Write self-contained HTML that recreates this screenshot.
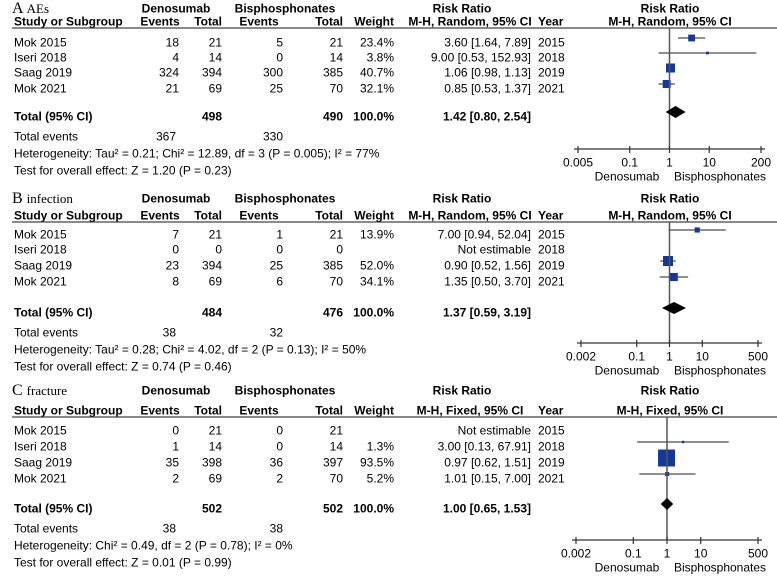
<!DOCTYPE html>
<html><head><meta charset="utf-8"><style>
html,body{margin:0;padding:0;background:#fff;}
svg{display:block;font-family:"Liberation Sans",Arial,sans-serif;font-size:12px;}
.b{font-weight:bold;}
.u{font-weight:bold;}
.t{font-family:"Liberation Serif",serif;}
</style></head><body>
<svg id="c" width="777" height="576" viewBox="0 0 777 576"></svg>
<script>
// Panel A data
const aStudies=["Mok 2015","Iseri 2018","Saag 2019","Mok 2021"];
const aDenEv=["18","4","324","21"], aDenTot=["21","14","394","69"];
const aBisEv=["5","0","300","25"], aBisTot=["21","14","385","70"];
const aWeight=[23.4,3.8,40.7,32.1];
const aRR=[3.60,9.00,1.06,0.85], aLo=[1.64,0.53,0.98,0.53], aHi=[7.89,152.93,1.13,1.37];
const aRRText=["3.60 [1.64, 7.89]","9.00 [0.53, 152.93]","1.06 [0.98, 1.13]","0.85 [0.53, 1.37]"];
const aYears=["2015","2018","2019","2021"];
const aTotal={den:"498",bis:"490",rr:1.42,lo:0.80,hi:2.54,text:"1.42 [0.80, 2.54]",evDen:"367",evBis:"330"};
const aTicks=[0.005,0.1,1,10,200], aTickLabels=["0.005","0.1","1","10","200"];
// Panel B data
const bStudies=["Mok 2015","Iseri 2018","Saag 2019","Mok 2021"];
const bDenEv=["7","0","23","8"], bDenTot=["21","0","394","69"];
const bBisEv=["1","0","25","6"], bBisTot=["21","0","385","70"];
const bWeight=[13.9,null,52.0,34.1];
const bRR=[7.00,null,0.90,1.35], bLo=[0.94,null,0.52,0.50], bHi=[52.04,null,1.56,3.70];
const bRRText=["7.00 [0.94, 52.04]","Not estimable","0.90 [0.52, 1.56]","1.35 [0.50, 3.70]"];
const bYears=["2015","2018","2019","2021"];
const bTotal={den:"484",bis:"476",rr:1.37,lo:0.59,hi:3.19,text:"1.37 [0.59, 3.19]",evDen:"38",evBis:"32"};
const bTicks=[0.002,0.1,1,10,500], bTickLabels=["0.002","0.1","1","10","500"];
// Panel C data
const cStudies=["Mok 2015","Iseri 2018","Saag 2019","Mok 2021"];
const cDenEv=["0","1","35","2"], cDenTot=["21","14","398","69"];
const cBisEv=["0","0","36","2"], cBisTot=["21","14","397","70"];
const cWeight=[null,1.3,93.5,5.2];
const cRR=[null,3.00,0.97,1.01], cLo=[null,0.13,0.62,0.15], cHi=[null,67.91,1.51,7.00];
const cRRText=["Not estimable","3.00 [0.13, 67.91]","0.97 [0.62, 1.51]","1.01 [0.15, 7.00]"];
const cYears=["2015","2018","2019","2021"];
const cTotal={den:"502",bis:"502",rr:1.00,lo:0.65,hi:1.53,text:"1.00 [0.65, 1.53]",evDen:"38",evBis:"38"};
const cTicks=[0.002,0.1,1,10,500], cTickLabels=["0.002","0.1","1","10","500"];

const svg=document.getElementById('c');
const NS="http://www.w3.org/2000/svg";
function mk(tag,attrs,parent){const e=document.createElementNS(NS,tag);for(const k in attrs)e.setAttribute(k,attrs[k]);(parent||svg).appendChild(e);return e;}
function txt(g,x,y,s,anchor,cls,name){const e=mk('text',{x:x,y:y+4.5,'text-anchor':anchor||'start'},g);if(cls)e.setAttribute('class',cls);e.textContent=s;


return e;}

function panel(o){
  const g=mk('g',{});
  
  
  const tt=mk('text',{x:12,y:o.titleY+5,'class':'t'},g);
  
  
  const s1=mk('tspan',{'font-size':'16'},tt);s1.textContent=o.letter+' ';
  const s2=mk('tspan',{'font-size':'13'},tt);s2.textContent=o.title;
  txt(g,176,o.titleY,"Denosumab",'middle','b','group-header-denosumab');
  txt(g,285,o.titleY,"Bisphosphonates",'middle','b','group-header-bisphosphonates');
  txt(g,462,o.titleY,"Risk Ratio",'middle','b','rr-header');
  txt(g,670,o.titleY,"Risk Ratio",'middle','b','plot-header');
  const hy=o.lineY-7;
  txt(g,14,hy,"Study or Subgroup",'start','u','col-study');
  txt(g,160,hy,"Events",'middle','u','col-events-den');
  txt(g,222,hy,"Total",'end','u','col-total-den');
  txt(g,259,hy,"Events",'middle','u','col-events-bis');
  txt(g,343,hy,"Total",'end','u','col-total-bis');
  txt(g,394,hy,"Weight",'end','u','col-weight');
  txt(g,470,hy,o.method+", 95% CI",'middle','u','col-rr');
  txt(g,538,hy,"Year",'start','u','col-year');
  txt(g,670,hy,o.method+", 95% CI",'middle','u','col-plot');
  const ln=mk('line',{x1:12,x2:777,y1:o.lineY,y2:o.lineY,stroke:'#444','stroke-width':1.2},g);
  
  
  const L0=Math.log10(o.ticks[0]),L1=Math.log10(o.ticks[o.ticks.length-1]);
  const xs=v=>o.x0+(Math.log10(v)-L0)/(L1-L0)*(o.x1-o.x0);
  const wmax=Math.max(...o.weight.filter(w=>w!=null));
  o.studies.forEach((s,i)=>{
    const y=o.rowY[i];
    txt(g,14,y,s,'start',null,'study-name');
    txt(g,179,y,o.denEv[i],'end',null,'den-events');
    txt(g,222,y,o.denTot[i],'end',null,'den-total');
    txt(g,283,y,o.bisEv[i],'end',null,'bis-events');
    txt(g,343,y,o.bisTot[i],'end',null,'bis-total');
    if(o.weight[i]!=null)txt(g,394,y,o.weight[i].toFixed(1)+'%','end',null,'weight');
    txt(g,531,y,o.rrText[i],'end',null,'risk-ratio-ci');
    txt(g,538,y,o.years[i],'start',null,'year');
    if(o.rr[i]!=null){
      const my=y-4;
      const wl=mk('line',{x1:xs(o.lo[i]),x2:Math.min(xs(o.hi[i]),o.x1+6),y1:my,y2:my,stroke:'#222','stroke-width':1},g);
      
      
      const sz=Math.max(2.5,o.maxSq*Math.sqrt(o.weight[i]/wmax));
      const r=mk('rect',{x:xs(o.rr[i])-sz/2,y:my-sz/2,width:sz,height:sz,fill:'#13389a'},g);
      
      
    }
  });
  const t=o.total;
  txt(g,14,o.totY,"Total (95% CI)",'start','b','total-label');
  txt(g,222,o.totY,t.den,'end','b','total-den');
  txt(g,343,o.totY,t.bis,'end','b','total-bis');
  txt(g,394,o.totY,"100.0%",'end','b','total-weight');
  txt(g,531,o.totY,t.text,'end','b','total-rr');
  txt(g,14,o.totY+20,"Total events",'start',null,'total-events-label');
  txt(g,176,o.totY+20,t.evDen,'end',null,'total-events-den');
  txt(g,283,o.totY+20,t.evBis,'end',null,'total-events-bis');
  txt(g,14,o.totY+37,o.het,'start',null,'heterogeneity');
  txt(g,14,o.totY+54,o.test,'start',null,'overall-effect');
  const v=mk('line',{x1:xs(1),x2:xs(1),y1:o.lineY,y2:o.axisY,stroke:'#555','stroke-width':1.5},g);
  
  
  const dy=o.totY-4;
  const d=mk('polygon',{points:`${xs(t.lo)},${dy} ${xs(t.rr)},${dy-6} ${xs(t.hi)},${dy} ${xs(t.rr)},${dy+6}`,fill:'#000'},g);
  
  
  const ax=mk('line',{x1:o.x0-4,x2:o.x1+4,y1:o.axisY,y2:o.axisY,stroke:'#333','stroke-width':1.2},g);
  
  
  o.ticks.forEach((tv,i)=>{
    const tk=mk('line',{x1:xs(tv),x2:xs(tv),y1:o.axisY-3,y2:o.axisY+4,stroke:'#333','stroke-width':1.2},g);
    
    
    txt(g,xs(tv),o.axisY+13,o.tickLabels[i],'middle',null,'x-tick-label');
  });
  txt(g,627,o.axisY+27,"Denosumab",'middle',null,'favours-denosumab');
  txt(g,720,o.axisY+27,"Bisphosphonates",'middle',null,'favours-bisphosphonates');
}
panel({id:'aes',letter:'A',title:'AEs',method:'M-H, Random',titleY:8,lineY:28,rowY:[42,57,72,88],totY:116,axisY:149,x0:578,x1:761,maxSq:9,
 studies:aStudies,denEv:aDenEv,denTot:aDenTot,bisEv:aBisEv,bisTot:aBisTot,weight:aWeight,rr:aRR,lo:aLo,hi:aHi,rrText:aRRText,years:aYears,total:aTotal,ticks:aTicks,tickLabels:aTickLabels,
 het:"Heterogeneity: Tau² = 0.21; Chi² = 12.89, df = 3 (P = 0.005); I² = 77%",test:"Test for overall effect: Z = 1.20 (P = 0.23)"});
panel({id:'infection',letter:'B',title:'infection',method:'M-H, Random',titleY:198,lineY:222,rowY:[234,249,265,281],totY:312,axisY:343,x0:581,x1:758,maxSq:10,
 studies:bStudies,denEv:bDenEv,denTot:bDenTot,bisEv:bBisEv,bisTot:bBisTot,weight:bWeight,rr:bRR,lo:bLo,hi:bHi,rrText:bRRText,years:bYears,total:bTotal,ticks:bTicks,tickLabels:bTickLabels,
 het:"Heterogeneity: Tau² = 0.28; Chi² = 4.02, df = 2 (P = 0.13); I² = 50%",test:"Test for overall effect: Z = 0.74 (P = 0.46)"});
panel({id:'fracture',letter:'C',title:'fracture',method:'M-H, Fixed',titleY:390,lineY:417,rowY:[430,446,462,478],totY:508,axisY:540,x0:576,x1:758,maxSq:17,
 studies:cStudies,denEv:cDenEv,denTot:cDenTot,bisEv:cBisEv,bisTot:cBisTot,weight:cWeight,rr:cRR,lo:cLo,hi:cHi,rrText:cRRText,years:cYears,total:cTotal,ticks:cTicks,tickLabels:cTickLabels,
 het:"Heterogeneity: Chi² = 0.49, df = 2 (P = 0.78); I² = 0%",test:"Test for overall effect: Z = 0.01 (P = 0.99)"});
</script>
</body></html>
